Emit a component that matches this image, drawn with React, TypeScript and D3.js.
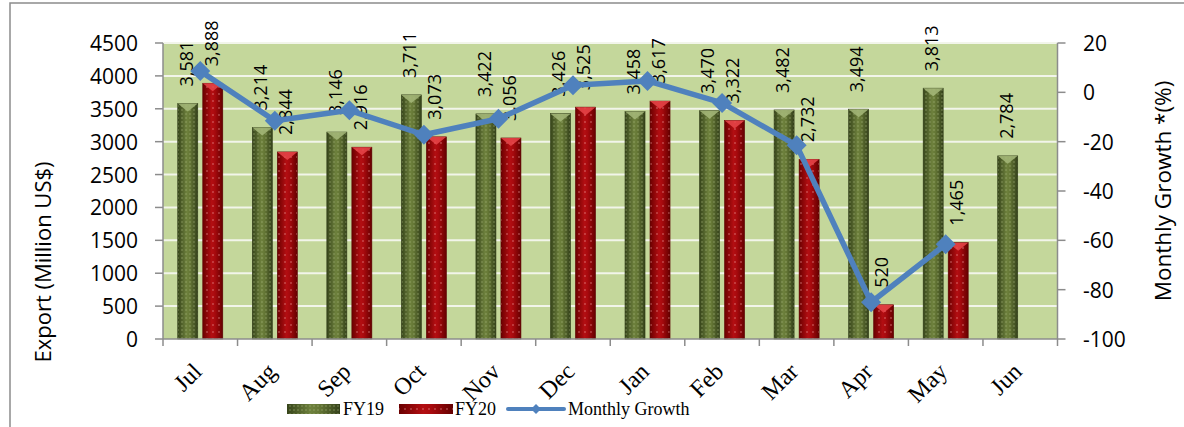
import React from "react";
import * as d3 from "d3";

const months = ["Jul", "Aug", "Sep", "Oct", "Nov", "Dec", "Jan", "Feb", "Mar", "Apr", "May", "Jun"];
const fy19 = [3581, 3214, 3146, 3711, 3422, 3426, 3458, 3470, 3482, 3494, 3813, 2784];
const fy20: (number | null)[] = [3888, 2844, 2916, 3073, 3056, 3525, 3617, 3322, 2732, 520, 1465, null];
const growth: (number | null)[] = [8.6, -11.5, -7.3, -17.2, -10.7, 2.9, 4.6, -4.3, -21.5, -85.1, -61.6, null];
const leftTicks = [0, 500, 1000, 1500, 2000, 2500, 3000, 3500, 4000, 4500];
const rightTicks = [-100, -80, -60, -40, -20, 0, 20];
const seriesNames = ["FY19", "FY20"];

const W = 1184;
const H = 427;
const L = 163;
const R = 1057.5;
const T = 43;
const B = 339;

const SANS = "'Open Sans', sans-serif";
const SERIF = "'Liberation Serif', 'Times New Roman', serif";

export default function App() {
  const x = d3.scaleBand<string>().domain(months).range([L, R]).padding(0);
  const bw = x.bandwidth();
  const x1 = d3.scaleBand<string>().domain(seriesNames).range([0, bw]).paddingInner(0.2).paddingOuter(0.59);
  const y = d3.scaleLinear().domain([0, 4500]).range([B, T]);
  const y2 = d3.scaleLinear().domain([-100, 20]).range([B, T]);
  const fmt = d3.format(",");

  const linePts = growth
    .map((g, i) => (g === null ? null : [x(months[i])! + bw / 2, y2(g)] as [number, number]))
    .filter((p): p is [number, number] => p !== null);
  const lineGen = d3.line();

  const bar = (v: number, i: number, s: string) => {
    const bx = x(months[i])! + x1(s)!;
    const w = x1.bandwidth();
    const top = y(v);
    const green = s === "FY19";
    return (
      <g key={s + i}>
        <rect x={bx} y={top} width={w} height={B - top} fill={green ? "url(#gGreen)" : "url(#gRed)"} />
        <rect x={bx} y={top} width={w} height={B - top} fill={green ? "url(#dGreen)" : "url(#dRed)"} />
        <rect x={bx} y={top} width={w} height={B - top} fill="none" stroke={green ? "#2f3a16" : "#5a0000"} strokeWidth={0.6} />
        <path
          d={`M${bx},${top}L${bx + w},${top}L${bx + w / 2},${top + 8}Z`}
          fill={green ? "#a6b87a" : "#e8474a"}
          opacity={0.85}
        />
        <text
          transform={`translate(${bx + w / 2},${top - 17}) rotate(-90)`}
          dominantBaseline="middle"
          textAnchor="start"
          fontFamily={SANS}
          fontSize={18}
          fill="#000"
        >
          {fmt(v)}
        </text>
      </g>
    );
  };

  return (
    <svg width={W} height={H} style={{ position: "absolute", left: 0, top: 0, background: "#fff" }}>
      <defs>
        <linearGradient id="gGreen" x1="0" x2="1" y1="0" y2="0">
          <stop offset="0" stopColor="#36441a" />
          <stop offset="0.45" stopColor="#6e813d" />
          <stop offset="0.6" stopColor="#667836" />
          <stop offset="1" stopColor="#33401a" />
        </linearGradient>
        <linearGradient id="gRed" x1="0" x2="1" y1="0" y2="0">
          <stop offset="0" stopColor="#6a0000" />
          <stop offset="0.45" stopColor="#b30e12" />
          <stop offset="0.6" stopColor="#a80a0e" />
          <stop offset="1" stopColor="#640000" />
        </linearGradient>
        <pattern id="dGreen" width="4" height="4" patternUnits="userSpaceOnUse">
          <circle cx="2" cy="2" r="0.8" fill="#a9b97f" opacity="0.6" />
        </pattern>
        <pattern id="dRed" width="6" height="7" patternUnits="userSpaceOnUse">
          <circle cx="3" cy="3" r="0.8" fill="#f0a0a0" opacity="0.7" />
        </pattern>
      </defs>

      <rect x={10} y={3} width={1300} height={600} fill="none" stroke="#8c8c8c" strokeWidth={1.5} />

      <rect x={L} y={T} width={R - L} height={B - T} fill="#c4d79b" />
      {leftTicks.slice(1).map((t) => (
        <line key={t} x1={L} x2={R} y1={y(t)} y2={y(t)} stroke="#f2f5ea" strokeWidth={2} />
      ))}

      {fy19.map((v, i) => bar(v, i, "FY19"))}
      {fy20.map((v, i) => (v === null ? null : bar(v, i, "FY20")))}

      <path d={lineGen(linePts) || ""} fill="none" stroke="#4f81bd" strokeWidth={5.5} strokeLinejoin="round" />
      {linePts.map(([px, py], i) => (
        <path key={i} d={`M${px},${py - 10}L${px + 10},${py}L${px},${py + 10}L${px - 10},${py}Z`} fill="#4f81bd" />
      ))}

      {/* left axis */}
      <line x1={L} x2={L} y1={T} y2={B} stroke="#8c8c8c" strokeWidth={1.5} />
      {leftTicks.map((t) => (
        <g key={t}>
          <line x1={L - 8} x2={L} y1={y(t)} y2={y(t)} stroke="#8c8c8c" strokeWidth={1.5} />
          <text x={138} y={y(t)} textAnchor="end" dominantBaseline="central" fontFamily={SANS} fontSize={21} fill="#000">
            {t}
          </text>
        </g>
      ))}
      <text
        transform={`translate(42,262) rotate(-90)`}
        textAnchor="middle"
        dominantBaseline="central"
        fontFamily={SANS}
        fontSize={22}
        fill="#000"
      >
        Export (Million US$)
      </text>

      {/* right axis */}
      <line x1={R} x2={R} y1={T} y2={B} stroke="#8c8c8c" strokeWidth={1.5} />
      {rightTicks.map((t) => (
        <g key={t}>
          <line x1={R} x2={R + 8} y1={y2(t)} y2={y2(t)} stroke="#8c8c8c" strokeWidth={1.5} />
          <text x={1083} y={y2(t)} textAnchor="start" dominantBaseline="central" fontFamily={SANS} fontSize={21} fill="#000">
            {t}
          </text>
        </g>
      ))}
      <text
        transform={`translate(1162,191) rotate(-90)`}
        textAnchor="middle"
        dominantBaseline="central"
        fontFamily={SANS}
        fontSize={22.5}
        fill="#000"
      >
        Monthly Growth *(%)
      </text>

      {/* bottom axis */}
      <line x1={L} x2={R} y1={B} y2={B} stroke="#8c8c8c" strokeWidth={1.5} />
      {months.map((m) => (
        <line key={m} x1={x(m)!} x2={x(m)!} y1={B} y2={B + 7} stroke="#8c8c8c" strokeWidth={1.5} />
      ))}
      <line x1={R} x2={R} y1={B} y2={B + 7} stroke="#8c8c8c" strokeWidth={1.5} />
      {months.map((m) => (
        <text
          key={m}
          transform={`translate(${x(m)! + bw / 2 + 3},${B + 34}) rotate(-45)`}
          textAnchor="end"
          fontFamily={SERIF}
          fontSize={24}
          fill="#000"
        >
          {m}
        </text>
      ))}

      {/* legend */}
      <rect x={287} y={404} width={53} height={10} fill="url(#gGreen)" />
      <rect x={287} y={404} width={53} height={10} fill="url(#dGreen)" />
      <text x={343} y={415} fontFamily={SERIF} fontSize={18} fill="#000">FY19</text>
      <rect x={399} y={404} width={54} height={10} fill="url(#gRed)" />
      <rect x={399} y={404} width={54} height={10} fill="url(#dRed)" />
      <text x={455} y={415} fontFamily={SERIF} fontSize={18} fill="#000">FY20</text>
      <line x1={508} x2={564} y1={409} y2={409} stroke="#4f81bd" strokeWidth={4} strokeLinecap="round" />
      <path d="M536,404L541,409L536,414L531,409Z" fill="#4f81bd" />
      <text x={568} y={415} fontFamily={SERIF} fontSize={18} fill="#000">Monthly Growth</text>
    </svg>
  );
}
